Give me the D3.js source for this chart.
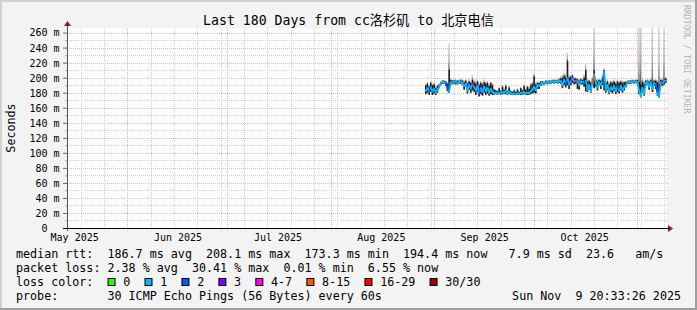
<!DOCTYPE html>
<html>
<head>
<meta charset="utf-8">
<script src="https://cdn.jsdelivr.net/npm/d3@7"></script>
<style>
html, body { margin: 0; padding: 0; background: #f3f3f3; }
svg { display: block; }
text { font-family: "DejaVu Sans Mono", "Noto Sans CJK SC", monospace; }
</style>
</head>
<body>
<script>
// ---- chart values ----
var titleText = "Last 180 Days from cc洛杉矶 to 北京电信";
var yLabel = "Seconds";
var sideText = "RRDTOOL / TOBI OETIKER";
var endTime = new Date(Date.UTC(2025, 10, 9, 20, 33, 26));
var spanDays = 180;
var firstSample = new Date(Date.UTC(2025, 7, 29, 12, 0, 0));
var stepHours = 12;

// median rtt (ms), one sample every 12h
var median = [183,186,181,187,182,185,180,184,188,192,
  194,194,192,186,181,194,193,195,194,193,
  194,195,193,189,192,183,190,186,191,188,
  183,189,178,186,181,188,182,186,180,185,
  181,179,180,179,180,179,181,180,183,179,
  181,179,178,179,178,179,178,180,179,181,
  179,180,179,182,184,188,183,190,189,192,
  193,192,194,193,194,194,195,194,195,194,
  196,195,190,197,192,199,191,196,199,195,
  196,195,190,195,194,193,196,184,190,182,
  194,204,193,187,194,190,195,208,183,190,
  181,187,184,189,182,188,183,189,184,187,
  190,193,194,194,195,194,195,194,183,175,
  186,178,193,194,188,194,185,193,190,180,
  174,194,193,195,196];

// dense smoke band (ms)
var smokeLo = [178,180,177,181,177,179,177,180,186,190,
  192,192,189,182,180,191,191,192,191,191,
  192,192,190,184,188,179,184,180,183,181,
  177,181,175,178,176,180,177,179,176,178,
  177,177,178,177,178,177,178,178,178,177,
  178,177,177,177,177,177,177,177,177,178,
  177,177,177,178,179,180,179,185,185,189,
  191,190,192,191,192,192,193,192,193,192,
  193,192,186,190,187,190,185,190,193,191,
  192,185,184,191,191,188,182,181,184,180,
  190,186,188,183,190,185,190,183,180,183,
  178,181,179,182,178,181,179,183,180,183,
  187,191,192,192,193,192,193,191,178,174,
  180,176,189,191,184,190,181,189,185,176,
  173,190,189,191,193];

var smokeHi = [190,192,188,193,190,191,186,189,191,194,
  196,196,195,192,211,197,196,197,196,196,
  196,197,196,194,196,192,195,193,197,194,
  192,195,190,193,191,194,192,193,189,193,
  190,184,183,182,186,182,188,184,189,182,
  187,182,181,183,181,184,181,186,183,189,
  184,188,185,190,192,202,191,193,193,195,
  195,194,196,195,196,196,197,196,197,196,
  198,199,200,203,200,222,200,201,203,199,
  199,198,196,198,197,200,210,195,196,193,
  198,210,197,195,197,196,199,210,193,195,
  191,194,193,195,192,195,193,195,193,194,
  194,195,196,196,197,196,197,197,195,192,
  195,192,196,196,195,197,195,196,196,194,
  192,197,196,198,199];

// highest ping (ms), light smoke tail
var pingMax = [192,195,190,196,192,194,189,191,192,195,
  197,197,196,194,246,199,197,198,198,197,
  198,199,198,197,198,195,199,196,204,198,
  196,198,194,196,194,198,195,196,192,195,
  193,186,185,184,188,184,190,186,192,184,
  189,184,183,185,183,186,183,188,185,191,
  186,190,188,193,195,206,194,195,195,196,
  196,196,197,197,197,197,198,198,198,198,
  200,202,204,207,205,233,204,204,205,201,
  201,200,198,200,199,205,220,198,198,196,
  200,270,199,198,199,198,201,213,196,198,
  194,197,196,198,195,198,196,197,196,196,
  196,197,197,197,198,197,198,198,270,270,
  200,196,198,198,198,199,270,198,198,197,
  270,199,200,270,201];

// loss class per sample (index into lossLabels)
var loss = [1,1,1,2,1,1,1,1,1,1,
  1,1,1,2,2,1,1,1,1,1,
  1,1,1,1,1,1,1,1,1,4,
  1,1,1,2,1,1,1,1,1,1,
  1,1,1,1,1,1,1,1,1,1,
  1,1,1,1,1,1,1,1,1,1,
  1,1,1,1,1,1,1,1,1,1,
  1,1,1,1,1,1,1,1,1,1,
  1,1,1,1,1,2,1,1,4,1,
  1,4,1,1,1,1,2,1,1,1,
  1,5,1,1,1,1,1,2,1,1,
  1,1,1,1,1,1,2,1,1,1,
  1,1,1,1,1,1,1,1,1,1,
  1,1,1,1,1,1,1,1,1,2,
  1,1,4,1,1];

var lossLabels = ["0", "1", "2", "3", "4-7", "8-15", "16-29", "30/30"];
var lossColors = ["#26ff00", "#00b8ff", "#0059ff", "#7e00ff", "#ff00ea", "#ff5500", "#ff0000", "#a10000"];

var yMajor = [0, 20, 40, 60, 80, 100, 120, 140, 160, 180, 200, 220, 240, 260];
var yMinor = [10, 30, 50, 70, 90, 110, 130, 150, 170, 190, 210, 230, 250];

var medianRow = "median rtt:  186.7 ms avg  208.1 ms max  173.3 ms min  194.4 ms now   7.9 ms sd  23.6   am/s";
var lossRow = "packet loss: 2.38 % avg  30.41 % max  0.01 % min  6.55 % now";
var lossColorLabel = "loss color:";
var probeRow = "probe:       30 ICMP Echo Pings (56 Bytes) every 60s";
var stampText = "Sun Nov  9 20:33:26 2025";

// ---- layout ----
var W = 697, H = 310;
var plot = {left: 67, right: 667, top: 28, bottom: 228};
var yMax = 266.1;
var legendFont = 11.7, charW = legendFont * 0.602;

var startTime = d3.utcDay.offset(endTime, -spanDays);
var x = d3.scaleUtc().domain([startTime, endTime]).range([plot.left, plot.right]);
var y = d3.scaleLinear().domain([0, yMax]).range([plot.bottom, plot.top]);

var times = median.map(function(d, i){ return d3.utcHour.offset(firstSample, i * stepHours); });
var stepPx = x(times[1]) - x(times[0]);

var svg = d3.select("body").append("svg")
    .attr("width", W)
    .attr("height", H);

// frame
svg.append("rect").attr("width", W).attr("height", H).attr("fill", "#f3f3f3");
svg.append("rect").attr("x", 0).attr("y", 0).attr("width", W).attr("height", 2).attr("fill", "#d2d2d2");
svg.append("rect").attr("x", 0).attr("y", 0).attr("width", 2).attr("height", H).attr("fill", "#d2d2d2");
svg.append("rect").attr("x", W - 2).attr("y", 0).attr("width", 2).attr("height", H).attr("fill", "#9e9e9e");
svg.append("rect").attr("x", 0).attr("y", H - 2).attr("width", W).attr("height", 2).attr("fill", "#9e9e9e");

// canvas
svg.append("rect")
    .attr("x", plot.left).attr("y", plot.top)
    .attr("width", plot.right - plot.left).attr("height", plot.bottom - plot.top)
    .attr("fill", "#ffffff");

var defs = svg.append("defs");
defs.append("clipPath").attr("id", "plotclip").append("rect")
    .attr("x", plot.left).attr("y", plot.top)
    .attr("width", plot.right - plot.left).attr("height", plot.bottom - plot.top);
var grad = defs.append("linearGradient").attr("id", "tail")
    .attr("x1", 0).attr("y1", 1).attr("x2", 0).attr("y2", 0);
grad.append("stop").attr("offset", "0%").attr("stop-color", "#5a5a5a");
grad.append("stop").attr("offset", "35%").attr("stop-color", "#a8a8a8");
grad.append("stop").attr("offset", "100%").attr("stop-color", "#d4d4d4");

// grid
var grid = svg.append("g").attr("class", "grid");
var weeks = d3.utcSunday.range(startTime, endTime);
var months = d3.utcMonth.range(d3.utcMonth.ceil(startTime), endTime);

grid.selectAll("line.vmin").data(weeks).enter().append("line")
    .attr("x1", function(d){ return Math.round(x(d)) + 0.5; })
    .attr("x2", function(d){ return Math.round(x(d)) + 0.5; })
    .attr("y1", plot.top).attr("y2", plot.bottom + 3)
    .attr("stroke", "#d0d0d0").attr("stroke-dasharray", "1,1");
grid.selectAll("line.hmin").data(yMinor).enter().append("line")
    .attr("x1", plot.left).attr("x2", plot.right + 2)
    .attr("y1", function(d){ return Math.round(y(d)) + 0.5; })
    .attr("y2", function(d){ return Math.round(y(d)) + 0.5; })
    .attr("stroke", "#d0d0d0").attr("stroke-dasharray", "1,1");
grid.selectAll("line.vmaj").data(months).enter().append("line")
    .attr("x1", function(d){ return Math.round(x(d)) + 0.5; })
    .attr("x2", function(d){ return Math.round(x(d)) + 0.5; })
    .attr("y1", plot.top).attr("y2", plot.bottom + 3)
    .attr("stroke", "#f3b0b0").attr("stroke-dasharray", "1,1");
grid.selectAll("line.hmaj").data(yMajor.slice(1)).enter().append("line")
    .attr("x1", plot.left).attr("x2", plot.right + 2)
    .attr("y1", function(d){ return Math.round(y(d)) + 0.5; })
    .attr("y2", function(d){ return Math.round(y(d)) + 0.5; })
    .attr("stroke", "#f3b0b0").attr("stroke-dasharray", "1,1");

// smoke
var smoke = svg.append("g").attr("clip-path", "url(#plotclip)");
smoke.selectAll("rect.tail").data(times).enter().append("rect")
    .attr("x", function(d){ return x(d) - stepPx / 2; })
    .attr("width", stepPx * 0.8)
    .attr("y", function(d, i){ return y(pingMax[i]); })
    .attr("height", function(d, i){ return Math.max(0, y(smokeHi[i]) - y(pingMax[i])); })
    .attr("fill", "url(#tail)");
smoke.selectAll("rect.band").data(times).enter().append("rect")
    .attr("x", function(d){ return x(d) - stepPx / 2; })
    .attr("width", stepPx)
    .attr("y", function(d, i){ return y(smokeHi[i]); })
    .attr("height", function(d, i){ return y(smokeLo[i]) - y(smokeHi[i]); })
    .attr("fill", "#1c1c1c");

// median coloured by loss
var seg = d3.line().x(function(p){ return p[0]; }).y(function(p){ return p[1]; });
smoke.selectAll("path.med").data(d3.range(1, median.length)).enter().append("path")
    .attr("d", function(i){
        return seg([[x(times[i - 1]), y(median[i - 1])], [x(times[i]), y(median[i])]]);
    })
    .attr("fill", "none")
    .attr("stroke", function(i){ return lossColors[loss[i]]; })
    .attr("stroke-width", 1.8)
    .attr("stroke-linecap", "round");

// y axis
var yAxis = d3.axisLeft(y).tickValues(yMajor).tickSize(4).tickPadding(3.5)
    .tickFormat(function(d){ return d === 0 ? "0" : d + " m"; });
var ya = svg.append("g").attr("transform", "translate(" + plot.left + ",0)").call(yAxis);
ya.select(".domain").remove();
ya.selectAll("line").attr("stroke", "#666");
ya.selectAll("text")
    .attr("font-family", "DejaVu Sans Mono, monospace")
    .attr("font-size", 10)
    .attr("dy", "0.34em")
    .attr("fill", "#000");
// the bare zero sits where the number part of "nn m" would end
ya.selectAll("text").filter(function(d){ return d === 0; })
    .attr("x", -7.5 - 2 * 6.02);
var yAxisMinor = d3.axisLeft(y).tickValues(yMinor).tickSize(2).tickFormat("");
var ym = svg.append("g").attr("transform", "translate(" + plot.left + ",0)").call(yAxisMinor);
ym.select(".domain").remove();
ym.selectAll("line").attr("stroke", "#aaa");

// x axis labels, centred half a month after the month start
var monthLabels = d3.utcMonth.range(d3.utcMonth.floor(startTime), endTime)
    .map(function(m){ return d3.utcDay.offset(m, 15); })
    .filter(function(d){ return x(d) > plot.left && x(d) < plot.right; });
var xAxis = d3.axisBottom(x).tickValues(monthLabels).tickSize(0).tickPadding(5.4)
    .tickFormat(d3.utcFormat("%b %Y"));
var xa = svg.append("g").attr("transform", "translate(0," + plot.bottom + ")").call(xAxis);
xa.select(".domain").remove();
xa.selectAll("text").attr("font-family", "DejaVu Sans Mono, monospace").attr("font-size", 10).attr("fill", "#000");

// axis lines + arrows
svg.append("line").attr("x1", plot.left + 0.5).attr("x2", plot.left + 0.5)
    .attr("y1", plot.bottom + 3).attr("y2", plot.top - 4)
    .attr("stroke", "#555");
svg.append("line").attr("x1", plot.left - 4).attr("x2", plot.right + 3)
    .attr("y1", plot.bottom + 0.5).attr("y2", plot.bottom + 0.5)
    .attr("stroke", "#000");
svg.append("path")
    .attr("d", "M" + (plot.left - 3) + "," + (plot.top - 2) + "L" + (plot.left + 0.5) + "," + (plot.top - 7) + "L" + (plot.left + 4) + "," + (plot.top - 2) + "Z")
    .attr("fill", "#8b1a1a");
svg.append("path")
    .attr("d", "M" + (plot.right + 1) + "," + (plot.bottom - 3) + "L" + (plot.right + 6) + "," + (plot.bottom + 0.5) + "L" + (plot.right + 1) + "," + (plot.bottom + 4) + "Z")
    .attr("fill", "#8b1a1a");

// titles
svg.append("text").attr("x", W / 2).attr("y", 25)
    .attr("text-anchor", "middle").attr("font-size", 13.2).attr("fill", "#000")
    .text(titleText);
svg.append("text")
    .attr("transform", "translate(15," + ((plot.top + plot.bottom) / 2) + ") rotate(-90)")
    .attr("text-anchor", "middle").attr("font-size", legendFont).attr("fill", "#000")
    .text(yLabel);
svg.append("text")
    .attr("transform", "translate(684,5) rotate(90)")
    .attr("font-size", 8.2).attr("fill", "#b4b4b4")
    .text(sideText);

// legend
var legend = svg.append("g").attr("font-size", legendFont).attr("fill", "#000");
var legendLeft = 16;
[[medianRow, 257.5], [lossRow, 271.5], [probeRow, 299.5]].forEach(function(r){
    legend.append("text").attr("x", legendLeft).attr("y", r[1])
        .attr("xml:space", "preserve").style("white-space", "pre")
        .text(r[0]);
});
legend.append("text").attr("x", legendLeft).attr("y", 285.5).text(lossColorLabel);
legend.append("text").attr("x", W - 16).attr("y", 299.5)
    .attr("text-anchor", "end").attr("xml:space", "preserve").style("white-space", "pre")
    .text(stampText);

var bx = legendLeft + 13 * charW;
lossLabels.forEach(function(lbl, i){
    legend.append("rect").attr("x", bx + 0.5).attr("y", 278.5).attr("width", 7).attr("height", 7)
        .attr("fill", lossColors[i]).attr("stroke", "#000").attr("stroke-width", 1);
    legend.append("text").attr("x", bx + 15.7).attr("y", 285.5).text(lbl);
    bx = bx + 15.7 + lbl.length * charW + 14.2;
});
</script>
</body>
</html>
